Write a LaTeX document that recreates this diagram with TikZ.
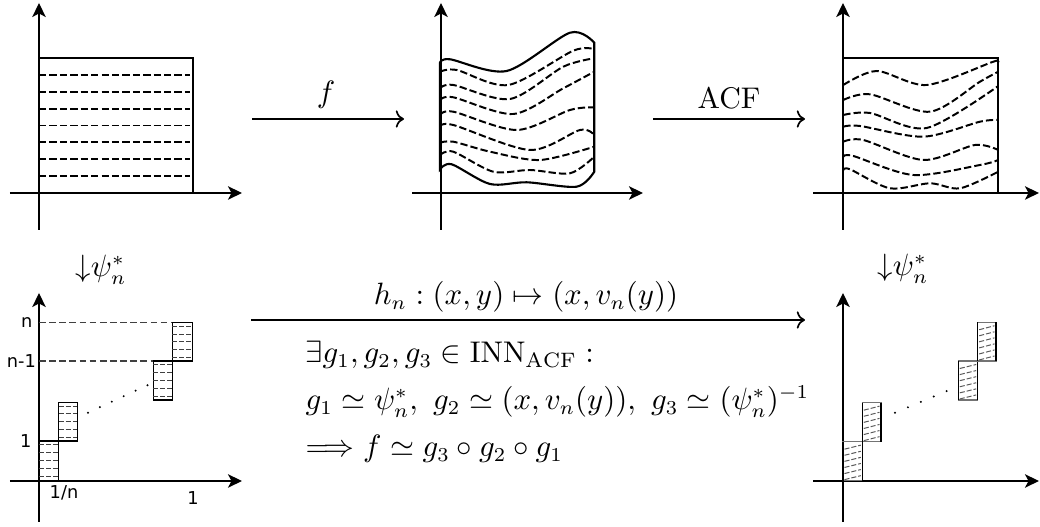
\documentclass[tikz,border=0pt]{standalone}
\usepackage{amsmath}
\usepackage{fontspec}
\newfontfamily\ticklabelfont{DejaVu Sans}
\usepackage{tikz}
\usetikzlibrary{arrows.meta,calc,positioning}
\definecolor{stripegray}{RGB}{90,90,90}

\begin{document}
\begin{tikzpicture}[
    x=0.355pt, y=-0.355pt,
    font=\fontsize{10.6}{12.7}\selectfont,
    axis/.style={line width=0.45pt, -{Stealth[length=5pt,width=4.8pt,inset=1.3pt]}},
    frame/.style={line width=0.75pt},
    fiber/.style={line width=0.7pt, dash pattern=on 2.6pt off 1.1pt},
    guide/.style={line width=0.4pt, dash pattern=on 2.4pt off 1.2pt, draw=black!75},
    stepbox/.style={line width=0.55pt},
    stripe/.style={line width=0.35pt, dash pattern=on 1.8pt off 0.7pt, draw=black!75},
    hatch/.style={line width=0.35pt, dash pattern=on 1.8pt off 0.7pt, draw=stripegray},
    mapto/.style={line width=0.6pt, ->},
    ticklabel/.style={font=\ticklabelfont\fontsize{6.3}{7}\selectfont, inner sep=0pt}
]
\useasboundingbox (0,0) rectangle (1040,527);

% top left: straight fibres
\draw[axis] (10,193) -- (242,193);
\draw[axis] (39,230) -- (39,3);
\draw[frame] (39,58) rectangle (193,193);
\foreach \k in {1,...,7}
    \draw[fiber] (39,{193-\k*135/8}) -- (190,{193-\k*135/8});

% top middle: image under f
\draw[axis] (412,193) -- (643,193);
\draw[axis] (441,230) -- (441,3);
\draw[frame] plot[smooth] coordinates {(440,62.7) (450,59.3) (506.7,71) (570,32.7) (594.3,42.7)}
    -- plot[smooth] coordinates {(594.3,171.7) (576.7,186.7) (526.7,182.3) (490,184) (451.7,164.3) (440,169.3)} -- cycle;
\draw[fiber] plot[smooth] coordinates {(440,71.7) (456.7,70) (508.3,85) (573.3,50.7) (594.3,49.3)};
\draw[fiber] plot[smooth] coordinates {(440,88.3) (453.3,85) (510,99) (563.3,66.7) (594.3,58.3)};
\draw[fiber] plot[smooth] coordinates {(440,100) (453.3,97.3) (513.3,114) (563.3,88.3) (594.3,71.7)};
\draw[fiber] plot[smooth] coordinates {(440,115) (453.3,111.7) (516.7,130) (570,110) (594.3,107.3)};
\draw[fiber] plot[smooth] coordinates {(440,126.7) (453.3,125) (530,150) (580,130) (594.3,135)};
\draw[fiber] plot[smooth] coordinates {(440,142.7) (453.3,141.7) (490,151.7) (540,160) (594.3,146.7)};
\draw[fiber] plot[smooth] coordinates {(440,155) (453.3,151.7) (493.3,171.7) (530,170) (570,173.3) (594.3,156.7)};

% top right: after ACF
\draw[axis] (813,193) -- (1039,193);
\draw[axis] (843,230) -- (843,3);
\draw[frame] (843,58.3) rectangle (998.3,193);
\draw[fiber] plot[smooth] coordinates {(843.3,85) (876.7,71) (926.7,85) (993.3,61.7) (998.3,61.7)};
\draw[fiber] plot[smooth] coordinates {(843.3,100) (870,94.3) (930,111.7) (980,81.7) (998.3,71.7)};
\draw[fiber] plot[smooth] coordinates {(843.3,115) (870,113) (926.7,128) (998.3,86)};
\draw[fiber] plot[smooth] coordinates {(843.3,126.7) (860,126) (923.3,136.7) (980,121.7) (998.3,120)};
\draw[fiber] plot[smooth] coordinates {(843.3,141.7) (863.3,140) (923.3,160) (975,145) (998.3,150)};
\draw[fiber] plot[smooth] coordinates {(843.3,156.7) (853.3,156) (913.3,175) (980,165) (998.3,160)};
\draw[fiber] plot[smooth] coordinates {(843.3,170) (850,169.3) (890,188.3) (930,183.3) (960,188.3) (998.3,171.7)};

% bottom left: psi_n^*
\draw[axis] (10,481) -- (242,481);
\draw[axis] (39,522) -- (39,293);
\draw[guide] (39,322.7) -- (172.3,322.7);
\draw[guide] (39,361) -- (153.3,361);
\foreach \xa/\xb/\ya/\yb in {39/58.7/441/481, 58.7/77.3/402.3/441, 153.3/172.3/361/400, 172.3/192.3/322.7/361}{
    \draw[stepbox] (\xa,\ya) rectangle (\xb,\yb);
    \foreach \k in {0,...,4}
        \draw[stripe] (\xa,{\ya+(\k+0.5)*(\yb-\ya)/5}) -- (\xb,{\ya+(\k+0.5)*(\yb-\ya)/5});
}
\foreach \k in {0,...,5}
    \fill ({88+\k*11.9},{412.7-\k*5.5}) circle (1.1);
\node[ticklabel, anchor=east] (tick-n) at (33,323) {n};
\node[ticklabel, anchor=east] (tick-nm) at (36.5,361) {n-1};
\node[ticklabel, anchor=east] (tick-one) at (32,441) {1};
\node[ticklabel] (tick-frac) at (64,493) {1/n};
\node[ticklabel] (tick-xone) at (193,498) {1};

% bottom right: h_n applied
\draw[axis] (813,481) -- (1039,481);
\draw[axis] (843,522) -- (843,293);
\foreach \xa/\xb/\ya/\yb in {843/862.3/441.7/480.7, 862.3/881/402.7/441.7, 958.3/977.7/361/400, 977.7/996/322.3/361}{
    \draw[stepbox, draw=black!55] (\xa,\ya) rectangle (\xb,\yb);
    \draw[stepbox] (\xa,\ya) -- (\xa,\yb) (\xb,\ya) -- (\xb,\yb);
    \foreach \k in {0,...,5}
        \draw[hatch] ({\xa+1.5},{\ya+(\k+0.9)*(\yb-\ya)/6.4+2}) -- ({\xb-1.5},{\ya+(\k+0.9)*(\yb-\ya)/6.4-2});
}
\foreach \k in {0,...,4}
    \fill ({895+\k*12.9},{412.7-\k*5.4}) circle (1.1);

% maps between the pictures
\coordinate (f-from) at (252,119);
\coordinate (f-to) at (404,119);
\coordinate (acf-from) at (653,119);
\coordinate (acf-to) at (805,119);
\coordinate (h-from) at (251,320);
\coordinate (h-to) at (805,320);
\draw[mapto] (f-from) -- (f-to);
\draw[mapto] (acf-from) -- (acf-to);
\draw[mapto] (h-from) -- (h-to);
\node (f-label) at (326,95) {$f$};
\node (acf-label) at (729,98) {ACF};
\node (h-label) at (526,297) {$h_n:(x,y)\mapsto(x,v_n(y))$};
\node[anchor=base west, inner sep=0pt] (psi-left) at (75,276.5) {${\downarrow}\psi_n^*$};
\node[anchor=base west, inner sep=0pt] (psi-right) at (877,276) {${\downarrow}\psi_n^*$};

% decomposition
\node[anchor=base west, inner sep=0pt] (claim) at (305,363) {$\exists g_1,g_2,g_3\in\mathrm{INN}_{\mathrm{ACF}}:$};
\node[anchor=base west, inner sep=0pt] (approx) at (305,410) {$g_1\simeq\psi_n^*,\ g_2\simeq(x,v_n(y)),\ g_3\simeq(\psi_n^*)^{-1}$};
\node[anchor=base west, inner sep=0pt] (result) at (305,457) {$\Longrightarrow f\simeq g_3\circ g_2\circ g_1$};
\end{tikzpicture}
\end{document}
